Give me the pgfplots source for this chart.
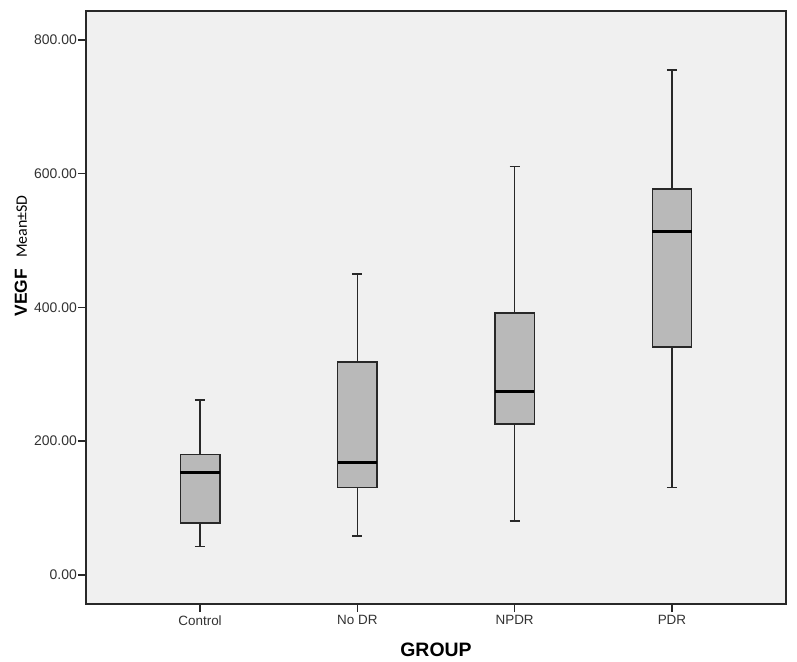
\documentclass[border=0pt]{standalone}
\usepackage{fontspec}
\setmainfont{Liberation Sans}
\newfontfamily\carlito{Carlito}
\usepackage{pgfplots}
\pgfplotsset{compat=1.18}
\usepgfplotslibrary{statistics}

\definecolor{panelbg}{RGB}{240,240,240}
\definecolor{boxfill}{RGB}{185,185,185}
\definecolor{edge}{RGB}{40,40,40}
\definecolor{ticktext}{RGB}{50,50,50}

\begin{document}
\begin{tikzpicture}
\begin{axis}[
    scale only axis,
    width=700bp, height=593bp,
    xmin=0.275, xmax=4.725,
    ymin=-43.4, ymax=843,
    axis background/.style={fill=panelbg},
    axis line style={edge, line width=1.5pt},
    tick pos=left,
    tick align=outside,
    major tick length=8bp,
    major tick style={draw=edge, line width=1.5pt},
    xtick={1,2,3,4},
    xticklabels={Control, No DR, NPDR, PDR},
    ytick={0,200,400,600,800},
    yticklabel style={font=\fontsize{14}{15}\selectfont, text=ticktext, inner sep=1bp,
        /pgf/number format/.cd, fixed, fixed zerofill, precision=2, assume math mode=true},
    xticklabel style={font=\fontsize{13.5}{15}\selectfont, text=ticktext},
    xlabel={GROUP},
    xlabel style={font=\fontsize{19.5}{20}\selectfont\bfseries, text=black,
                  at={(axis description cs:0.5,-0.0776)}, anchor=center},
    ylabel={{\fontsize{17.5}{18}\selectfont\bfseries VEGF}\hspace{11bp}{\carlito\fontsize{16}{17}\selectfont Mean±SD}},
    ylabel style={at={(axis description cs:-0.0843,0.587)}, anchor=base},
    every axis plot/.append style={draw=edge, line width=1.6pt},
    boxplot/draw direction=y,
    boxplot/box extend=0.25,
    boxplot/whisker extend=0.065,
    boxplot/every median/.style={black, line width=2.8pt},
    boxplot/every box/.style={draw=edge, fill=boxfill, line width=1.6pt},
    boxplot/every whisker/.style={draw=edge, line width=1.6pt},
]
% Control
\addplot[boxplot prepared={draw position=1,
    lower whisker=42.3, lower quartile=77.3, median=153.5,
    upper quartile=180, upper whisker=261.7}] coordinates {};
% No DR
\addplot[boxplot prepared={draw position=2,
    lower whisker=58.3, lower quartile=130.6, median=168.5,
    upper quartile=318.5, upper whisker=449.6}] coordinates {};
% NPDR
\addplot[boxplot prepared={draw position=3,
    lower whisker=81, lower quartile=226, median=274.6,
    upper quartile=392, upper whisker=610.6}] coordinates {};
% PDR
\addplot[boxplot prepared={draw position=4,
    lower whisker=130.6, lower quartile=341, median=512.9,
    upper quartile=576.7, upper whisker=755}] coordinates {};
\end{axis}
\path (current axis.south west) ++(-86bp,-58bp) coordinate (bl);
\path (current axis.north east) ++(11bp,11bp) coordinate (tr);
\path (bl) rectangle (tr);
\end{tikzpicture}
\end{document}
